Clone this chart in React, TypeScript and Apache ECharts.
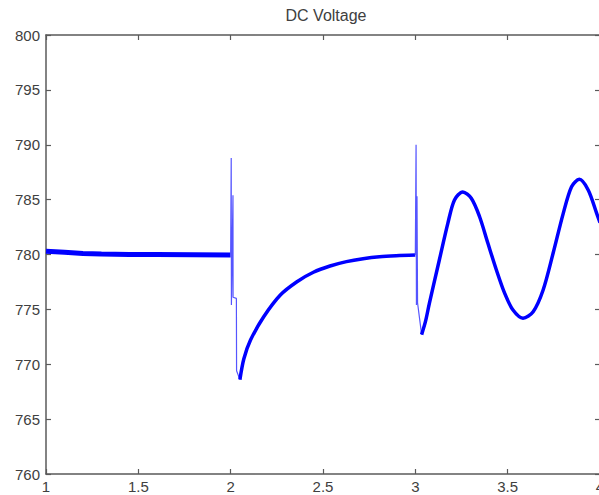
import React, { useEffect, useRef } from "react";
import * as echarts from "echarts";

const title = "DC Voltage";
const xTicks = { min: 1, max: 4, interval: 0.5 };
const yTicks = { min: 760, max: 800, interval: 5 };

// steady state before first disturbance
const flatPts: number[][] = [
  [1.0, 780.3], [1.05, 780.25], [1.1, 780.2], [1.2, 780.1], [1.3, 780.05],
  [1.45, 780.0], [1.6, 780.0], [1.8, 779.98], [2.0, 779.95],
];
// fast transient at t = 2
const spike1Pts: number[][] = [
  [2.0, 779.95], [2.003, 788.8], [2.004, 775.4], [2.0125, 785.4], [2.013, 776.1],
  [2.031, 776.0], [2.032, 769.4], [2.05, 768.6],
];
// recovery after t = 2
const recoveryPts: number[][] = [
  [2.05, 768.6], [2.0715, 770.5], [2.1075, 772.2], [2.179, 774.33], [2.269, 776.31],
  [2.359, 777.52], [2.448, 778.38], [2.538, 778.95], [2.627, 779.35], [2.717, 779.62],
  [2.806, 779.8], [2.896, 779.89], [3.0, 779.95],
];
// fast transient at t = 3
const spike2Pts: number[][] = [
  [3.0, 779.95], [3.004, 790.0], [3.006, 775.4], [3.009, 785.3], [3.012, 775.6],
  [3.034, 772.7],
];
// oscillation after t = 3
const swingPts: number[][] = [
  [3.034, 772.7], [3.055, 773.9], [3.076, 775.55], [3.13, 779.5], [3.176, 782.84],
  [3.212, 784.97], [3.257, 785.7], [3.303, 785.12], [3.348, 783.44], [3.393, 781.02],
  [3.439, 778.59], [3.484, 776.46], [3.529, 774.94], [3.583, 774.2], [3.638, 774.79],
  [3.692, 776.77], [3.746, 780.11], [3.801, 783.75], [3.846, 786.18], [3.888, 786.85],
  [3.936, 785.88], [3.982, 783.75], [4.0, 782.9],
];

const FONT = 'Arial, "Liberation Sans", sans-serif';
const AXIS_COLOR = "#5a5a5a";
const TEXT_COLOR = "#404040";

export default function App() {
  const ref = useRef<HTMLDivElement>(null);
  useEffect(() => {
    if (!ref.current) return;
    const chart = echarts.init(ref.current, null, { renderer: "svg" });
    const axisLine = { show: true, onZero: false, lineStyle: { color: AXIS_COLOR, width: 1.5 } };
    const tick = { show: true, inside: true, length: 5, lineStyle: { color: AXIS_COLOR, width: 1.2 } };
    const lineSeries = (data: number[][], width: number, color: string, smooth: number | boolean) => ({
      type: "line",
      data,
      xAxisIndex: 0,
      yAxisIndex: 0,
      showSymbol: false,
      symbol: "none",
      smooth,
      lineStyle: { color, width },
      silent: true,
    });
    chart.setOption({
      animation: false,
      title: {
        text: title,
        left: 321,
        top: 2,
        textAlign: "center",
        textStyle: { fontFamily: FONT, fontSize: 16, fontWeight: "normal", color: TEXT_COLOR },
      },
      grid: {
        left: 46, width: 554, top: 35, bottom: 21,
        containLabel: false, outerBoundsMode: "none",
      },
      xAxis: [
        {
          type: "value", position: "bottom", ...xTicks,
          axisLine, axisTick: tick, splitLine: { show: false },
          axisLabel: { show: true, margin: 5, fontFamily: FONT, fontSize: 15, color: TEXT_COLOR },
        },
        {
          type: "value", position: "top", ...xTicks,
          axisLine, axisTick: tick, splitLine: { show: false }, axisLabel: { show: false },
        },
      ],
      yAxis: [
        {
          type: "value", position: "left", ...yTicks,
          axisLine, axisTick: tick, splitLine: { show: false },
          axisLabel: { show: true, margin: 6, fontFamily: FONT, fontSize: 15, color: TEXT_COLOR },
        },
        {
          type: "value", position: "right", ...yTicks,
          axisLine, axisTick: tick, splitLine: { show: false }, axisLabel: { show: false },
        },
      ],
      series: [
        lineSeries(flatPts, 5, "#0000ff", false),
        lineSeries(spike1Pts, 1.2, "#5555ff", false),
        lineSeries(recoveryPts, 3.5, "#0000ff", 0.3),
        lineSeries(spike2Pts, 1.2, "#5555ff", false),
        lineSeries(swingPts, 3.5, "#0000ff", 0.3),
      ],
    });
    return () => chart.dispose();
  }, []);
  return (
    <div
      ref={ref}
      style={{ position: "fixed", left: 0, top: 0, width: 599, height: 495, background: "#fff" }}
    />
  );
}
